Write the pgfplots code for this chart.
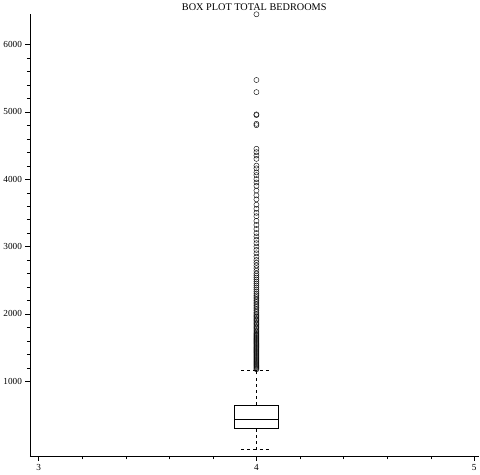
\documentclass[border=0pt]{standalone}
\usepackage{pgfplots}
\pgfplotsset{compat=1.18}
\usepackage{fontspec}
\setmainfont{Liberation Serif}
\begin{document}
\begin{tikzpicture}
\begin{axis}[
  scale only axis, width=436bp, height=430bp,
  xmin=2.96, xmax=5.02, ymin=-114, ymax=6450,
  axis lines=left, axis line style={-},
  xtick={3,4,5}, minor x tick num=4,
  ytick={1000,2000,3000,4000,5000,6000}, minor y tick num=4,
  yticklabel style={/pgf/number format/1000 sep={}},
  /pgf/number format/assume math mode=true,
  tick style={black}, tick align=outside,
  title={BOX PLOT TOTAL BEDROOMS}, title style={yshift=-6pt},
  every tick label/.style={font=\small},
]
% box
\addplot[black, thick, mark=none] coordinates {(3.9,296) (4.1,296) (4.1,647) (3.9,647) (3.9,296)};
\addplot[black, thick, mark=none] coordinates {(3.9,435) (4.1,435)};
% whiskers
\addplot[black, thin, dashed, mark=none] coordinates {(4,647) (4,1173)};
\addplot[black, thin, dashed, mark=none] coordinates {(4,296) (4,1)};
\addplot[black, thin, dashed, mark=none] coordinates {(3.93,1173) (4.07,1173)};
\addplot[black, thin, dashed, mark=none] coordinates {(3.93,1) (4.07,1)};
\addplot[only marks, mark=o, mark size=2.5pt, black, thin] coordinates {
(4,1180) (4,1195) (4,1210) (4,1225) (4,1240) (4,1255) (4,1270) (4,1285) (4,1300) (4,1315)
(4,1330) (4,1345) (4,1360) (4,1375) (4,1390) (4,1405) (4,1420) (4,1435) (4,1450) (4,1465)
(4,1480) (4,1495) (4,1510) (4,1525) (4,1540) (4,1555) (4,1570) (4,1585) (4,1600) (4,1615)
(4,1630) (4,1645) (4,1660) (4,1675) (4,1690) (4,1705) (4,1720) (4,1740) (4,1760) (4,1780)
(4,1800) (4,1820) (4,1840) (4,1860) (4,1880) (4,1900) (4,1920) (4,1940) (4,1960) (4,1980)
(4,2000) (4,2025) (4,2050) (4,2075) (4,2100) (4,2125) (4,2150) (4,2175) (4,2200) (4,2225)
(4,2250) (4,2275) (4,2300) (4,2330) (4,2360) (4,2390) (4,2420) (4,2450) (4,2480) (4,2510)
(4,2540) (4,2570) (4,2600) (4,2640) (4,2680) (4,2720) (4,2760) (4,2800) (4,2850) (4,2900)
(4,2950) (4,3000) (4,3050) (4,3100) (4,3150) (4,3200) (4,3260) (4,3320) (4,3380) (4,3450)
(4,3500) (4,3560) (4,3620) (4,3700) (4,3760) (4,3830) (4,3900) (4,3950) (4,4000) (4,4060)
(4,4100) (4,4160) (4,4200) (4,4300) (4,4350) (4,4400) (4,4450) (4,4800) (4,4820) (4,4950)
(4,4960) (4,5290) (4,5470) (4,6445)
};
\end{axis}
\end{tikzpicture}
\end{document}
